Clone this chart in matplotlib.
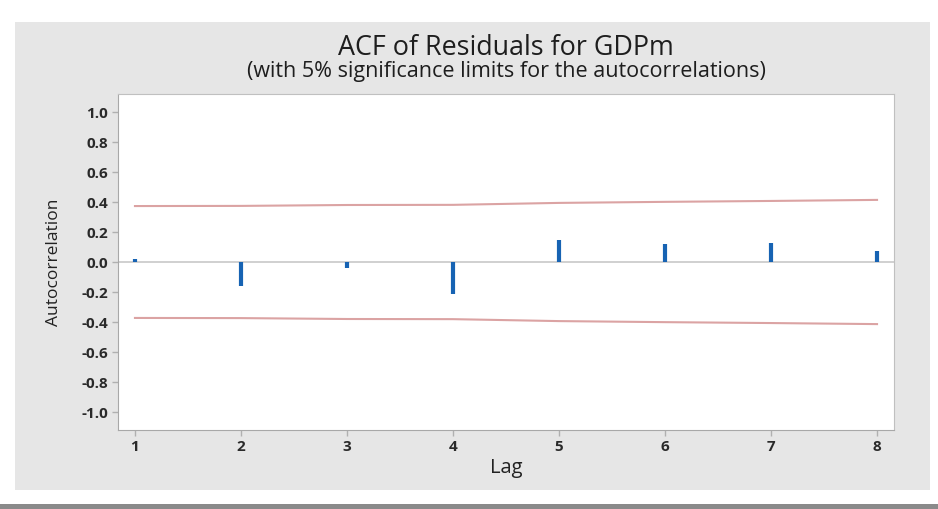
import matplotlib.pyplot as plt
import numpy as np
from matplotlib.patches import Rectangle

# Data
lags = [1, 2, 3, 4, 5, 6, 7, 8]
acf = [0.02, -0.16, -0.04, -0.21, 0.147, 0.12, 0.127, 0.073]
upper = [0.373, 0.374, 0.380, 0.381, 0.394, 0.401, 0.407, 0.414]
lower = [-u for u in upper]
yticks = [1.0, 0.8, 0.6, 0.4, 0.2, 0.0, -0.2, -0.4, -0.6, -0.8, -1.0]

plt.rcParams['font.family'] = ['Open Sans', 'DejaVu Sans']

fig = plt.figure(figsize=(9.38, 5.09), dpi=100)
W, H = 938, 509

# gray panel behind the plot
fig.patches.append(Rectangle((15 / W, 1 - 490 / H), 915 / W, 468 / H,
                             transform=fig.transFigure, facecolor='#e6e6e6',
                             edgecolor='none', zorder=-2))
# frame shadow
fig.patches.append(Rectangle((0, 0), 1, 5 / H, transform=fig.transFigure,
                             facecolor='#8a8a8a', edgecolor='none', zorder=-2))

ax = fig.add_axes([118 / W, 1 - 430 / H, (894 - 118) / W, (430 - 94) / H])
ax.set_zorder(2)
ax.set_facecolor('white')

# Draw ACF spikes and limits
ax.axhline(0, color='#c8c8c8', lw=1.2, zorder=1)
ax.vlines(lags, 0, acf, color='#1763b3', lw=3, zorder=3)
ax.plot(lags, upper, color='#dba3a3', lw=1.5, zorder=2)
ax.plot(lags, lower, color='#dba3a3', lw=1.5, zorder=2)

ax.set_xlim(0.84, 8.16)
ax.set_ylim(-1.12, 1.12)
ax.set_xticks(lags)
ax.set_yticks(yticks)
ax.set_yticklabels(['%.1f' % t for t in yticks])
ax.tick_params(axis='both', color='#b0b0b0', length=4, width=1,
               labelsize=11, labelcolor='#2a2a2a', pad=3)
for lab in ax.get_xticklabels() + ax.get_yticklabels():
    lab.set_fontweight('bold')

for s in ['top', 'right']:
    ax.spines[s].set_color('#c0c0c0')
for s in ['left', 'bottom']:
    ax.spines[s].set_color('#a8a8a8')

ax.set_xlabel('Lag', fontsize=14.5, color='#222222')
ax.set_ylabel('Autocorrelation', fontsize=12.5, color='#222222')
ax.xaxis.set_label_coords(0.5, -0.082)
ax.yaxis.set_label_coords(-0.072, 0.5)

fig.text(0.5 * (118 + 894) / W, 1 - 48 / H, 'ACF of Residuals for GDPm',
         ha='center', va='center', fontsize=19.4, color='#1e1e1e')
fig.text(0.5 * (118 + 894) / W, 1 - 72 / H,
         '(with 5% significance limits for the autocorrelations)',
         ha='center', va='center', fontsize=15.5, color='#1e1e1e')

fig.savefig('out.png', dpi=100)
